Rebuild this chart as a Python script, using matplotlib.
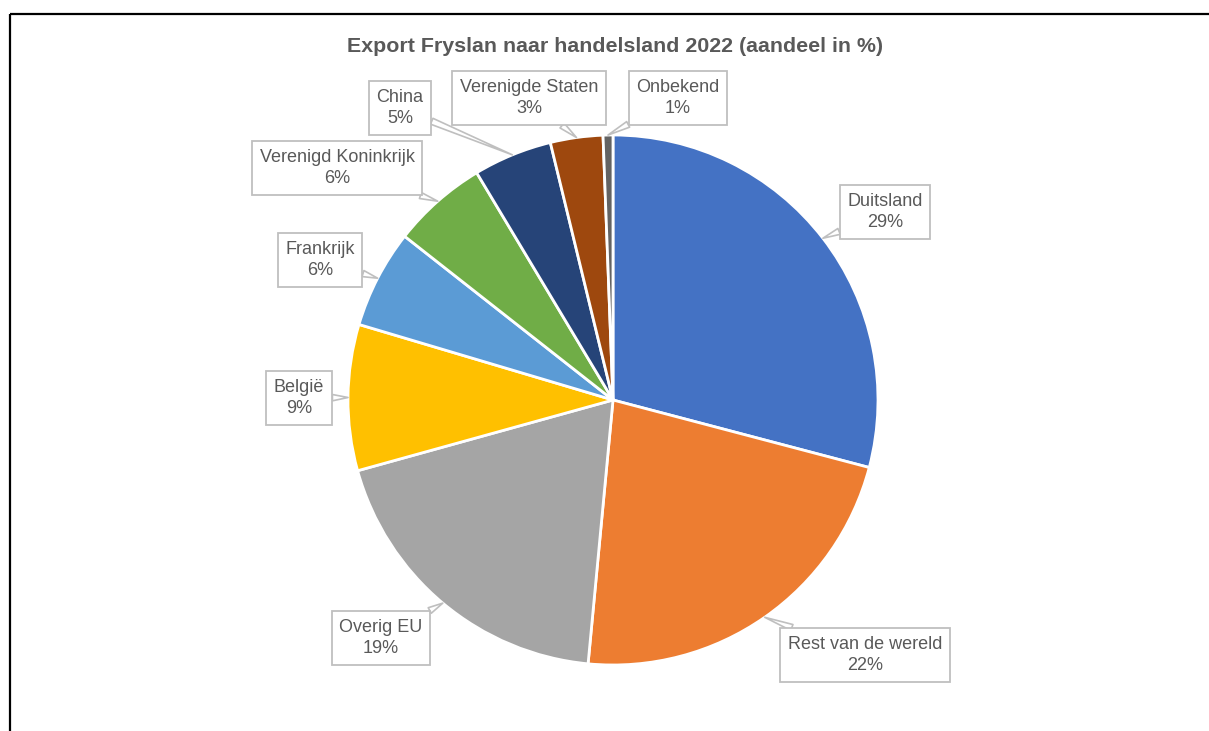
import numpy as np
import matplotlib
matplotlib.use("Agg")
from matplotlib import pyplot as plt

# data
landen = ["Duitsland", "Rest van de wereld", "Overig EU", "België", "Frankrijk",
          "Verenigd Koninkrijk", "China", "Verenigde Staten", "Onbekend"]
aandeel = [29.1, 22.4, 19.2, 8.9, 6.0, 5.8, 4.8, 3.2, 0.6]
kleuren = ["#4472C4", "#ED7D31", "#A5A5A5", "#FFC000", "#5B9BD5",
           "#70AD47", "#264478", "#9E480E", "#636363"]

# positie van de labelkaders (pixels, oorsprong linksboven)
label_pos = [(885, 212), (865, 655), (381, 638), (299, 398), (320, 260),
             (337, 168), (400, 108), (529, 98), (678, 98)]

plt.rcParams['font.family'] = ['Liberation Sans', 'DejaVu Sans']

W, H = 1209, 731
fig = plt.figure(figsize=(W / 100, H / 100), dpi=100)
ax = fig.add_axes([0, 0, 1, 1])

# kader van de grafiek (alleen boven en links zichtbaar)
ax.plot([9.5, W], [13.5, 13.5], color='black', lw=1.6, solid_capstyle='butt')
ax.plot([9.5, 9.5], [13.5, H], color='black', lw=1.6, solid_capstyle='butt')

# y-as is omgedraaid, dus tegen de klok in = visueel met de klok mee
wedges, _ = ax.pie(aandeel, colors=kleuren, startangle=-90, counterclock=True,
                   center=(613, 400), radius=265, frame=True,
                   wedgeprops=dict(edgecolor='white', linewidth=2))
ax.set_xlim(0, W)
ax.set_ylim(H, 0)
ax.set_aspect('equal')
ax.axis('off')

# labels met aanwijzer naar midden van de taart-rand
for w, naam, waarde, pos in zip(wedges, landen, aandeel, label_pos):
    hoek = np.deg2rad((w.theta1 + w.theta2) / 2)
    tip = (w.center[0] + w.r * np.cos(hoek), w.center[1] + w.r * np.sin(hoek))
    ax.annotate('{}\n{:.0f}%'.format(naam, waarde), xy=tip, xytext=pos,
                ha='center', va='center', fontsize=13, color='#595959',
                linespacing=1.35,
                bbox=dict(boxstyle='square,pad=0.42', fc='white', ec='#BFBFBF', lw=1.3),
                arrowprops=dict(arrowstyle='wedge,tail_width=0.35', fc='white',
                                ec='#BFBFBF', lw=1.2, shrinkA=0, shrinkB=0))

ax.text(615, 47, 'Export Fryslan naar handelsland 2022 (aandeel in %)',
        ha='center', va='center', fontsize=15.4, fontweight='bold', color='#595959')

plt.savefig('out.png', dpi=100)
